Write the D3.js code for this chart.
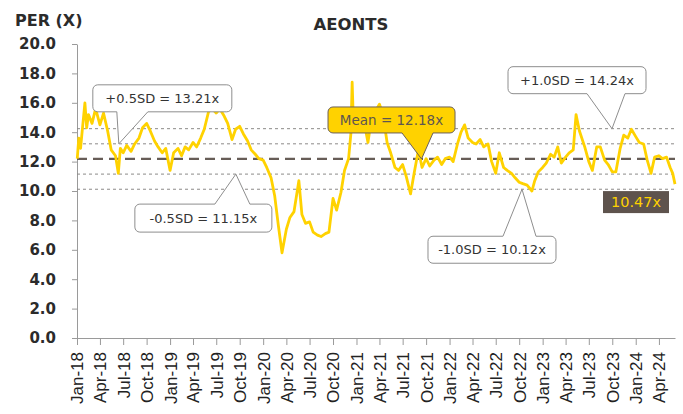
<!DOCTYPE html>
<html lang="en">
<head>
<meta charset="utf-8" />
<title>AEONTS PER (X)</title>
<script src="https://d3js.org/d3.v7.min.js"></script>
<style>
  body { margin: 0; background: #fff; }
  svg { display: block; }
  .title { font-family: "DejaVu Sans", sans-serif; font-weight: bold; font-size: 16.5px; fill: #2b2b2b; }
  .unit { font-family: "DejaVu Sans", sans-serif; font-weight: bold; font-size: 16px; fill: #2b2b2b; }
  .y-axis text { font-family: "DejaVu Sans", sans-serif; font-weight: bold; font-size: 15px; fill: #2b2b2b; }
  .x-axis text { font-family: "Liberation Sans", Arial, sans-serif; font-size: 17px; fill: #222; }
  .axis path, .axis line { stroke: #9a9a9a; }
  .callout text { font-family: "DejaVu Sans", sans-serif; font-size: 13px; fill: #333; }
</style>
</head>
<body>
<svg width="683" height="414"></svg>
<script>
// PER series (roughly twice a month)
const dates = [
  "2018-01-02","2018-01-08","2018-01-15","2018-01-22","2018-02-01","2018-02-08","2018-02-15","2018-03-01","2018-03-15",
  "2018-04-01","2018-04-15","2018-05-01","2018-05-15","2018-06-01","2018-06-12","2018-06-20","2018-07-01","2018-07-15",
  "2018-08-01","2018-08-15","2018-09-01","2018-09-15","2018-10-01","2018-10-15","2018-11-01","2018-11-15","2018-12-01","2018-12-15",
  "2019-01-01","2019-01-15","2019-02-01","2019-02-15","2019-03-01","2019-03-15","2019-04-01","2019-04-15","2019-05-01","2019-05-15",
  "2019-06-01","2019-06-15","2019-07-01","2019-07-15","2019-08-01","2019-08-15","2019-09-01","2019-09-15","2019-10-01","2019-10-15",
  "2019-11-01","2019-11-15","2019-12-01","2019-12-15",
  "2020-01-01","2020-01-15","2020-02-01","2020-02-15","2020-03-01","2020-03-15","2020-04-01","2020-04-15","2020-05-01","2020-05-20",
  "2020-06-01","2020-06-15","2020-07-01","2020-07-15","2020-08-01","2020-08-15","2020-09-01","2020-09-15","2020-10-01","2020-10-15",
  "2020-11-01","2020-11-15","2020-12-01","2020-12-10","2020-12-15","2020-12-20",
  "2021-01-01","2021-01-15","2021-02-01","2021-02-15","2021-03-01","2021-03-15","2021-04-01","2021-04-15","2021-05-01","2021-05-15",
  "2021-06-01","2021-06-15","2021-07-01","2021-07-15","2021-08-01","2021-08-15","2021-09-01","2021-09-15","2021-10-01","2021-10-15",
  "2021-11-01","2021-11-15","2021-12-01","2021-12-15",
  "2022-01-01","2022-01-15","2022-02-01","2022-02-15","2022-03-01","2022-03-15","2022-04-01","2022-04-15","2022-05-01","2022-05-15",
  "2022-06-01","2022-06-15","2022-07-01","2022-07-15","2022-08-01","2022-08-15","2022-09-01","2022-09-15","2022-10-01","2022-10-15",
  "2022-11-01","2022-11-20","2022-12-01","2022-12-15",
  "2023-01-01","2023-01-15","2023-02-01","2023-02-15","2023-03-01","2023-03-15","2023-04-01","2023-04-15","2023-05-01","2023-05-12",
  "2023-05-25","2023-06-15","2023-07-01","2023-07-15","2023-08-01","2023-08-15","2023-09-01","2023-09-15","2023-10-01","2023-10-15",
  "2023-11-01","2023-11-15","2023-12-01","2023-12-15",
  "2024-01-01","2024-01-15","2024-02-01","2024-02-15","2024-03-01","2024-03-15","2024-04-01","2024-04-15","2024-05-01","2024-05-15",
  "2024-05-25","2024-06-03"
];
const values = [
  12.2, 13.6, 12.9, 14.2, 16.0, 14.3, 15.2, 14.6, 15.6,
  14.5, 15.3, 14.1, 12.8, 12.4, 11.2, 12.9, 12.6, 13.1,
  12.7, 13.2, 13.6, 14.3, 14.6, 14.1, 13.4, 13.0, 12.6, 12.9,
  11.4, 12.6, 12.9, 12.4, 13.0, 12.8, 13.3, 13.0, 13.6, 14.2,
  15.4, 15.6, 15.3, 15.6, 15.1, 14.6, 13.5, 14.2, 14.4, 13.9,
  13.4, 12.8, 12.5, 12.2,
  12.1, 11.6, 10.9, 9.7, 7.6, 5.8, 7.4, 8.2, 8.6, 10.7,
  8.4, 7.8, 7.9, 7.2, 7.0, 6.9, 7.1, 7.2, 9.5, 8.7,
  9.9, 11.4, 12.2, 13.9, 17.4, 14.6,
  14.8, 15.6, 14.6, 13.3, 15.0, 15.4, 15.9, 15.2, 13.3, 12.6,
  11.6, 11.4, 11.8, 11.0, 9.8, 11.2, 12.8, 11.6, 12.2, 11.7,
  12.1, 12.3, 11.8, 12.2,
  12.3, 12.0, 13.2, 14.0, 14.5, 13.6, 13.3, 13.2, 13.5, 13.0,
  13.2, 12.0, 11.2, 12.6, 11.6, 11.4, 11.2, 10.9, 10.6, 10.5,
  10.4, 10.0, 10.7, 11.3,
  11.6, 11.9, 12.5, 12.3, 13.0, 11.9, 12.3, 12.6, 12.8, 15.2,
  14.1, 13.0, 12.0, 11.4, 13.0, 13.0, 12.1, 11.8, 11.3, 11.3,
  12.9, 13.8, 13.6, 14.2,
  13.7, 13.3, 13.2, 12.1, 11.2, 12.3, 12.4, 12.2, 12.3, 11.6,
  11.2, 10.47
];

const yTicks = [0, 2, 4, 6, 8, 10, 12, 14, 16, 18, 20];
const xTickLabels = [
  "Jan-18","Apr-18","Jul-18","Oct-18","Jan-19","Apr-19","Jul-19","Oct-19",
  "Jan-20","Apr-20","Jul-20","Oct-20","Jan-21","Apr-21","Jul-21","Oct-21",
  "Jan-22","Apr-22","Jul-22","Oct-22","Jan-23","Apr-23","Jul-23","Oct-23",
  "Jan-24","Apr-24"
];

const meanValue = 12.18;
const sdValues = [14.24, 13.21, 11.15, 10.12];
const lastLabel = "10.47x";

const callouts = [
  { key: "p05", text: "+0.5SD = 13.21x", date: "2018-06-14", value: 13.21 },
  { key: "m05", text: "-0.5SD = 11.15x", date: "2019-09-16", value: 11.15 },
  { key: "mean", text: "Mean = 12.18x", date: "2021-09-13", value: 12.18 },
  { key: "p10", text: "+1.0SD = 14.24x", date: "2023-09-30", value: 14.24 },
  { key: "m10", text: "-1.0SD = 10.12x", date: "2022-10-12", value: 10.12 }
];

// box placement relative to the pointer tip, px
const calloutLayout = {
  p05:  { dx: -26,   dy: -59, w: 139, h: 27, b0: -2,    b1: 29 },
  m05:  { dx: -101,  dy: 30,  w: 137, h: 28, b0: -21,   b1: 14 },
  mean: { dx: -93.5, dy: -52, w: 127, h: 26, b0: -19.5, b1: 11.5 },
  p10:  { dx: -104,  dy: -62, w: 138, h: 27, b0: -25,   b1: 13 },
  m10:  { dx: -94,   dy: 47,  w: 128, h: 27, b0: -19,   b1: 14 }
};

const svg = d3.select("svg");
const parse = d3.timeParse("%Y-%m-%d");
const parseTick = d3.timeParse("%b-%y");
const series = dates.map((d, i) => ({ date: parse(d), value: values[i] }));

const plot = { left: 77, right: 675, top: 44, bottom: 338 };

const x = d3.scaleTime()
  .domain([parse("2018-01-01"), series[series.length - 1].date])
  .range([plot.left, plot.right]);
const y = d3.scaleLinear().domain([0, 20]).range([plot.bottom, plot.top]);

// titles
svg.append("text").attr("class", "unit").attr("x", 15).attr("y", 26).text("PER (X)");
svg.append("text").attr("class", "title").attr("x", 351).attr("y", 30)
  .attr("text-anchor", "middle").text("AEONTS");

// axes
svg.append("g")
  .attr("class", "axis y-axis")
  .attr("transform", `translate(${plot.left},0)`)
  .call(d3.axisLeft(y).tickValues(yTicks).tickFormat(d3.format(".1f"))
    .tickSize(5).tickSizeOuter(0).tickPadding(16));

const tickDates = xTickLabels.map(parseTick);
const xAxis = svg.append("g")
  .attr("class", "axis x-axis")
  .attr("transform", `translate(0,${plot.bottom})`)
  .call(d3.axisBottom(x).tickValues(tickDates).tickFormat((d, i) => xTickLabels[i])
    .tickSize(7).tickSizeOuter(0));
xAxis.selectAll("text")
  .attr("transform", "rotate(-90)")
  .attr("x", -14)
  .attr("y", 0)
  .attr("dy", "0.35em")
  .attr("text-anchor", "end");

// SD reference lines
svg.append("g").selectAll("line")
  .data(sdValues)
  .join("line")
  .attr("x1", plot.left).attr("x2", plot.right)
  .attr("y1", d => y(d)).attr("y2", d => y(d))
  .attr("stroke", "#8c8a88")
  .attr("stroke-width", 1)
  .attr("stroke-dasharray", "3,3");

// mean line
svg.append("line")
  .attr("x1", plot.left).attr("x2", plot.right)
  .attr("y1", y(meanValue)).attr("y2", y(meanValue))
  .attr("stroke", "#675d57")
  .attr("stroke-width", 2.2)
  .attr("stroke-dasharray", "10,6");

// PER line
svg.append("path")
  .datum(series)
  .attr("fill", "none")
  .attr("stroke", "#ffd200")
  .attr("stroke-width", 2.8)
  .attr("stroke-linejoin", "round")
  .attr("d", d3.line().x(d => x(d.date)).y(d => y(d.value)));

// callouts
callouts.forEach(c => {
  const L = calloutLayout[c.key];
  const isMean = c.key === "mean";
  const fill = isMean ? "#ffd200" : "#fff";
  const stroke = isMean ? "#6b605a" : "#8e8e8e";
  const tx = x(parse(c.date)), ty = y(c.value);
  const bx = tx + L.dx, by = ty + L.dy;
  const g = svg.append("g").attr("class", "callout");
  g.append("rect")
    .attr("x", bx).attr("y", by)
    .attr("width", L.w).attr("height", L.h)
    .attr("rx", 5)
    .attr("fill", fill).attr("stroke", stroke).attr("stroke-width", 1);
  const baseY = L.dy < 0 ? by + L.h : by;
  const inset = L.dy < 0 ? -1.5 : 1.5;
  g.append("path")
    .attr("d", `M${tx + L.b0},${baseY + inset}L${tx + L.b0},${baseY}L${tx},${ty}L${tx + L.b1},${baseY}L${tx + L.b1},${baseY + inset}Z`)
    .attr("fill", fill).attr("stroke", "none");
  g.append("path")
    .attr("d", `M${tx + L.b0},${baseY}L${tx},${ty}L${tx + L.b1},${baseY}`)
    .attr("fill", "none").attr("stroke", stroke).attr("stroke-width", 1);
  g.append("text")
    .attr("x", bx + L.w / 2).attr("y", by + L.h / 2)
    .attr("dy", "0.36em")
    .attr("text-anchor", "middle")
    .style("font-size", isMean ? "13.5px" : null)
    .style("fill", isMean ? "#5e5650" : null)
    .text(c.text);
});

// last value tag
const last = series[series.length - 1];
const lx = x(last.date), ly = y(last.value);
svg.append("rect")
  .attr("x", lx - 72).attr("y", ly + 7)
  .attr("width", 66).attr("height", 22)
  .attr("fill", "#5e534d");
svg.append("text")
  .attr("x", lx - 39).attr("y", ly + 18)
  .attr("dy", "0.36em")
  .attr("text-anchor", "middle")
  .style("font-family", "'DejaVu Sans', sans-serif")
  .style("font-size", "14.5px")
  .style("fill", "#ffd200")
  .text(lastLabel);
</script>
</body>
</html>
